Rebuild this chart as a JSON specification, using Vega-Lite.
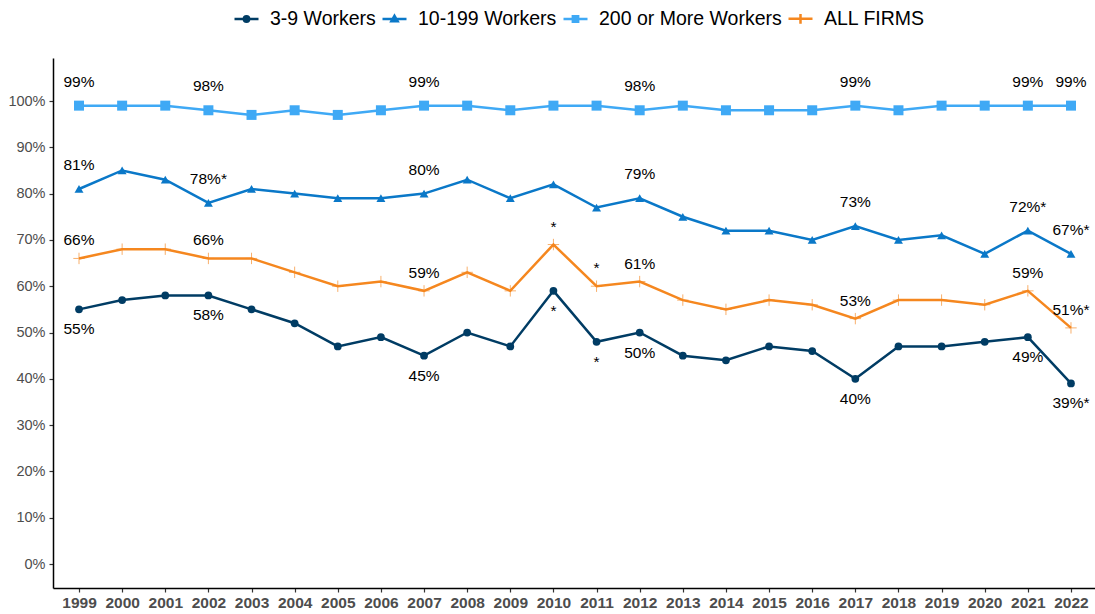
{
  "$schema": "https://vega.github.io/schema/vega-lite/v6.json",
  "width": 1042,
  "height": 530,
  "autosize": {"type": "none"},
  "padding": {"left": 53, "top": 58, "right": 0, "bottom": 26},
  "background": "white",
  "config": {
    "font": "Liberation Sans",
    "view": {"stroke": null},
    "axis": {"grid": false, "domainColor": "black", "domainWidth": 1.5, "tickColor": "#333333", "tickWidth": 1.2, "tickSize": 4, "labelColor": "#4D4D4D", "title": null}
  },
  "datasets": {
    "pts": [
      {"year": 1999, "series": "3-9 Workers", "value": 55}, {"year": 2000, "series": "3-9 Workers", "value": 57}, {"year": 2001, "series": "3-9 Workers", "value": 58}, {"year": 2002, "series": "3-9 Workers", "value": 58}, {"year": 2003, "series": "3-9 Workers", "value": 55}, {"year": 2004, "series": "3-9 Workers", "value": 52}, {"year": 2005, "series": "3-9 Workers", "value": 47}, {"year": 2006, "series": "3-9 Workers", "value": 49}, {"year": 2007, "series": "3-9 Workers", "value": 45}, {"year": 2008, "series": "3-9 Workers", "value": 50}, {"year": 2009, "series": "3-9 Workers", "value": 47}, {"year": 2010, "series": "3-9 Workers", "value": 59}, {"year": 2011, "series": "3-9 Workers", "value": 48}, {"year": 2012, "series": "3-9 Workers", "value": 50}, {"year": 2013, "series": "3-9 Workers", "value": 45}, {"year": 2014, "series": "3-9 Workers", "value": 44}, {"year": 2015, "series": "3-9 Workers", "value": 47}, {"year": 2016, "series": "3-9 Workers", "value": 46}, {"year": 2017, "series": "3-9 Workers", "value": 40}, {"year": 2018, "series": "3-9 Workers", "value": 47}, {"year": 2019, "series": "3-9 Workers", "value": 47}, {"year": 2020, "series": "3-9 Workers", "value": 48}, {"year": 2021, "series": "3-9 Workers", "value": 49}, {"year": 2022, "series": "3-9 Workers", "value": 39},
      {"year": 1999, "series": "10-199 Workers", "value": 81}, {"year": 2000, "series": "10-199 Workers", "value": 85}, {"year": 2001, "series": "10-199 Workers", "value": 83}, {"year": 2002, "series": "10-199 Workers", "value": 78}, {"year": 2003, "series": "10-199 Workers", "value": 81}, {"year": 2004, "series": "10-199 Workers", "value": 80}, {"year": 2005, "series": "10-199 Workers", "value": 79}, {"year": 2006, "series": "10-199 Workers", "value": 79}, {"year": 2007, "series": "10-199 Workers", "value": 80}, {"year": 2008, "series": "10-199 Workers", "value": 83}, {"year": 2009, "series": "10-199 Workers", "value": 79}, {"year": 2010, "series": "10-199 Workers", "value": 82}, {"year": 2011, "series": "10-199 Workers", "value": 77}, {"year": 2012, "series": "10-199 Workers", "value": 79}, {"year": 2013, "series": "10-199 Workers", "value": 75}, {"year": 2014, "series": "10-199 Workers", "value": 72}, {"year": 2015, "series": "10-199 Workers", "value": 72}, {"year": 2016, "series": "10-199 Workers", "value": 70}, {"year": 2017, "series": "10-199 Workers", "value": 73}, {"year": 2018, "series": "10-199 Workers", "value": 70}, {"year": 2019, "series": "10-199 Workers", "value": 71}, {"year": 2020, "series": "10-199 Workers", "value": 67}, {"year": 2021, "series": "10-199 Workers", "value": 72}, {"year": 2022, "series": "10-199 Workers", "value": 67},
      {"year": 1999, "series": "200 or More Workers", "value": 99}, {"year": 2000, "series": "200 or More Workers", "value": 99}, {"year": 2001, "series": "200 or More Workers", "value": 99}, {"year": 2002, "series": "200 or More Workers", "value": 98}, {"year": 2003, "series": "200 or More Workers", "value": 97}, {"year": 2004, "series": "200 or More Workers", "value": 98}, {"year": 2005, "series": "200 or More Workers", "value": 97}, {"year": 2006, "series": "200 or More Workers", "value": 98}, {"year": 2007, "series": "200 or More Workers", "value": 99}, {"year": 2008, "series": "200 or More Workers", "value": 99}, {"year": 2009, "series": "200 or More Workers", "value": 98}, {"year": 2010, "series": "200 or More Workers", "value": 99}, {"year": 2011, "series": "200 or More Workers", "value": 99}, {"year": 2012, "series": "200 or More Workers", "value": 98}, {"year": 2013, "series": "200 or More Workers", "value": 99}, {"year": 2014, "series": "200 or More Workers", "value": 98}, {"year": 2015, "series": "200 or More Workers", "value": 98}, {"year": 2016, "series": "200 or More Workers", "value": 98}, {"year": 2017, "series": "200 or More Workers", "value": 99}, {"year": 2018, "series": "200 or More Workers", "value": 98}, {"year": 2019, "series": "200 or More Workers", "value": 99}, {"year": 2020, "series": "200 or More Workers", "value": 99}, {"year": 2021, "series": "200 or More Workers", "value": 99}, {"year": 2022, "series": "200 or More Workers", "value": 99},
      {"year": 1999, "series": "ALL FIRMS", "value": 66}, {"year": 2000, "series": "ALL FIRMS", "value": 68}, {"year": 2001, "series": "ALL FIRMS", "value": 68}, {"year": 2002, "series": "ALL FIRMS", "value": 66}, {"year": 2003, "series": "ALL FIRMS", "value": 66}, {"year": 2004, "series": "ALL FIRMS", "value": 63}, {"year": 2005, "series": "ALL FIRMS", "value": 60}, {"year": 2006, "series": "ALL FIRMS", "value": 61}, {"year": 2007, "series": "ALL FIRMS", "value": 59}, {"year": 2008, "series": "ALL FIRMS", "value": 63}, {"year": 2009, "series": "ALL FIRMS", "value": 59}, {"year": 2010, "series": "ALL FIRMS", "value": 69}, {"year": 2011, "series": "ALL FIRMS", "value": 60}, {"year": 2012, "series": "ALL FIRMS", "value": 61}, {"year": 2013, "series": "ALL FIRMS", "value": 57}, {"year": 2014, "series": "ALL FIRMS", "value": 55}, {"year": 2015, "series": "ALL FIRMS", "value": 57}, {"year": 2016, "series": "ALL FIRMS", "value": 56}, {"year": 2017, "series": "ALL FIRMS", "value": 53}, {"year": 2018, "series": "ALL FIRMS", "value": 57}, {"year": 2019, "series": "ALL FIRMS", "value": 57}, {"year": 2020, "series": "ALL FIRMS", "value": 56}, {"year": 2021, "series": "ALL FIRMS", "value": 59}, {"year": 2022, "series": "ALL FIRMS", "value": 51}
    ],
    "labels": [
      {"year": 1999, "series": "200 or More Workers", "value": 99, "label": "99%"}, {"year": 2002, "series": "200 or More Workers", "value": 98, "label": "98%"}, {"year": 2007, "series": "200 or More Workers", "value": 99, "label": "99%"}, {"year": 2012, "series": "200 or More Workers", "value": 98, "label": "98%"}, {"year": 2017, "series": "200 or More Workers", "value": 99, "label": "99%"}, {"year": 2021, "series": "200 or More Workers", "value": 99, "label": "99%"}, {"year": 2022, "series": "200 or More Workers", "value": 99, "label": "99%"},
      {"year": 1999, "series": "10-199 Workers", "value": 81, "label": "81%"}, {"year": 2002, "series": "10-199 Workers", "value": 78, "label": "78%*"}, {"year": 2007, "series": "10-199 Workers", "value": 80, "label": "80%"}, {"year": 2012, "series": "10-199 Workers", "value": 79, "label": "79%"}, {"year": 2017, "series": "10-199 Workers", "value": 73, "label": "73%"}, {"year": 2021, "series": "10-199 Workers", "value": 72, "label": "72%*"}, {"year": 2022, "series": "10-199 Workers", "value": 67, "label": "67%*"},
      {"year": 1999, "series": "ALL FIRMS", "value": 66, "label": "66%"}, {"year": 2002, "series": "ALL FIRMS", "value": 66, "label": "66%"}, {"year": 2007, "series": "ALL FIRMS", "value": 59, "label": "59%"}, {"year": 2010, "series": "ALL FIRMS", "value": 69, "label": "*"}, {"year": 2011, "series": "ALL FIRMS", "value": 60, "label": "*"}, {"year": 2012, "series": "ALL FIRMS", "value": 61, "label": "61%"}, {"year": 2017, "series": "ALL FIRMS", "value": 53, "label": "53%"}, {"year": 2021, "series": "ALL FIRMS", "value": 59, "label": "59%"}, {"year": 2022, "series": "ALL FIRMS", "value": 51, "label": "51%*"},
      {"year": 1999, "series": "3-9 Workers", "value": 55, "label": "55%"}, {"year": 2002, "series": "3-9 Workers", "value": 58, "label": "58%"}, {"year": 2007, "series": "3-9 Workers", "value": 45, "label": "45%"}, {"year": 2010, "series": "3-9 Workers", "value": 59, "label": "*"}, {"year": 2011, "series": "3-9 Workers", "value": 48, "label": "*"}, {"year": 2012, "series": "3-9 Workers", "value": 50, "label": "50%"}, {"year": 2017, "series": "3-9 Workers", "value": 40, "label": "40%"}, {"year": 2021, "series": "3-9 Workers", "value": 49, "label": "49%"}, {"year": 2022, "series": "3-9 Workers", "value": 39, "label": "39%*"}
    ]
  },
  "encoding": {
    "x": {"field": "year", "type": "quantitative", "scale": {"domain": [1998.397, 2022.557], "nice": false, "zero": false}, "axis": {"values": [1999,2000,2001,2002,2003,2004,2005,2006,2007,2008,2009,2010,2011,2012,2013,2014,2015,2016,2017,2018,2019,2020,2021,2022], "format": "d", "labelFontSize": 15.5, "labelFontWeight": "bold", "labelPadding": 3, "labelFlush": false, "labelOverlap": false}},
    "y": {"field": "value", "type": "quantitative", "scale": {"domain": [-5.18, 109.29], "nice": false, "zero": false}, "axis": {"values": [0,10,20,30,40,50,60,70,80,90,100], "labelExpr": "datum.value + '%'", "labelFontSize": 14.5, "labelPadding": 4}}
  },
  "layer": [
    {
      "data": {"name": "pts"},
      "mark": {"type": "line", "strokeWidth": 2.5},
      "encoding": {
        "color": {"field": "series", "type": "nominal", "scale": {"domain": ["3-9 Workers", "10-199 Workers", "200 or More Workers", "ALL FIRMS"], "range": ["#003C64", "#0A78C8", "#3FA9F5", "#F5871F"]},
          "legend": {"orient": "none", "legendX": 180, "legendY": -53, "direction": "horizontal", "title": null, "labelFontSize": 19.5, "labelFont": "Liberation Sans", "labelColor": "black", "labelLimit": 0, "symbolSize": 576, "labelOffset": 10, "columnPadding": 1, "padding": 0, "symbolStrokeWidth": 2.5,
            "encode": {"symbols": {"update": {
              "shape": {"signal": "datum.value === '3-9 Workers' ? 'M-1,0H1M0.22,0A0.22,0.22 0 1,1 -0.22,0A0.22,0.22 0 1,1 0.22,0Z' : datum.value === '10-199 Workers' ? 'M-1,0H1M0,-0.27L0.26,0.18L-0.26,0.18Z' : datum.value === '200 or More Workers' ? 'M-1,0H1M-0.22,-0.22H0.22V0.22H-0.22Z' : 'M-1,0H1M0,-0.4V0.4'"},
              "fill": {"scale": "color", "field": "value"},
              "stroke": {"scale": "color", "field": "value"},
              "strokeWidth": {"value": 2.5},
              "opacity": {"value": 1}
            }}}},
          "sort": null}
      }
    },
    {
      "data": {"name": "pts"},
      "transform": [{"filter": "datum.series !== 'ALL FIRMS'"}],
      "mark": {"type": "point", "filled": true, "opacity": 1},
      "encoding": {
        "color": {"field": "series", "type": "nominal"},
        "shape": {"field": "series", "type": "nominal", "scale": {"domain": ["3-9 Workers", "10-199 Workers", "200 or More Workers"], "range": ["circle", "triangle-up", "square"]}, "legend": null},
        "size": {"field": "series", "type": "nominal", "scale": {"domain": ["3-9 Workers", "10-199 Workers", "200 or More Workers"], "range": [60, 100, 72]}, "legend": null}
      }
    },
    {
      "data": {"name": "pts"},
      "transform": [{"filter": "datum.series === 'ALL FIRMS'"}],
      "mark": {"type": "point", "filled": false, "shape": "M-1,0H1M0,-1V1", "size": 130, "strokeWidth": 1, "opacity": 0.65, "color": "#F5871F"},
      "encoding": {}
    },
    {
      "data": {"name": "labels"},
      "transform": [{"filter": "datum.series === '200 or More Workers' || datum.series === '10-199 Workers'"}],
      "mark": {"type": "text", "dy": -24, "fontSize": 15.5, "color": "black", "baseline": "middle", "align": "center"},
      "encoding": {"text": {"field": "label"}}
    },
    {
      "data": {"name": "labels"},
      "transform": [{"filter": "datum.series === 'ALL FIRMS'"}],
      "mark": {"type": "text", "dy": -18, "fontSize": 15.5, "color": "black", "baseline": "middle", "align": "center"},
      "encoding": {"text": {"field": "label"}}
    },
    {
      "data": {"name": "labels"},
      "transform": [{"filter": "datum.series === '3-9 Workers'"}],
      "mark": {"type": "text", "dy": 20, "fontSize": 15.5, "color": "black", "baseline": "middle", "align": "center"},
      "encoding": {"text": {"field": "label"}}
    }
  ]
}
